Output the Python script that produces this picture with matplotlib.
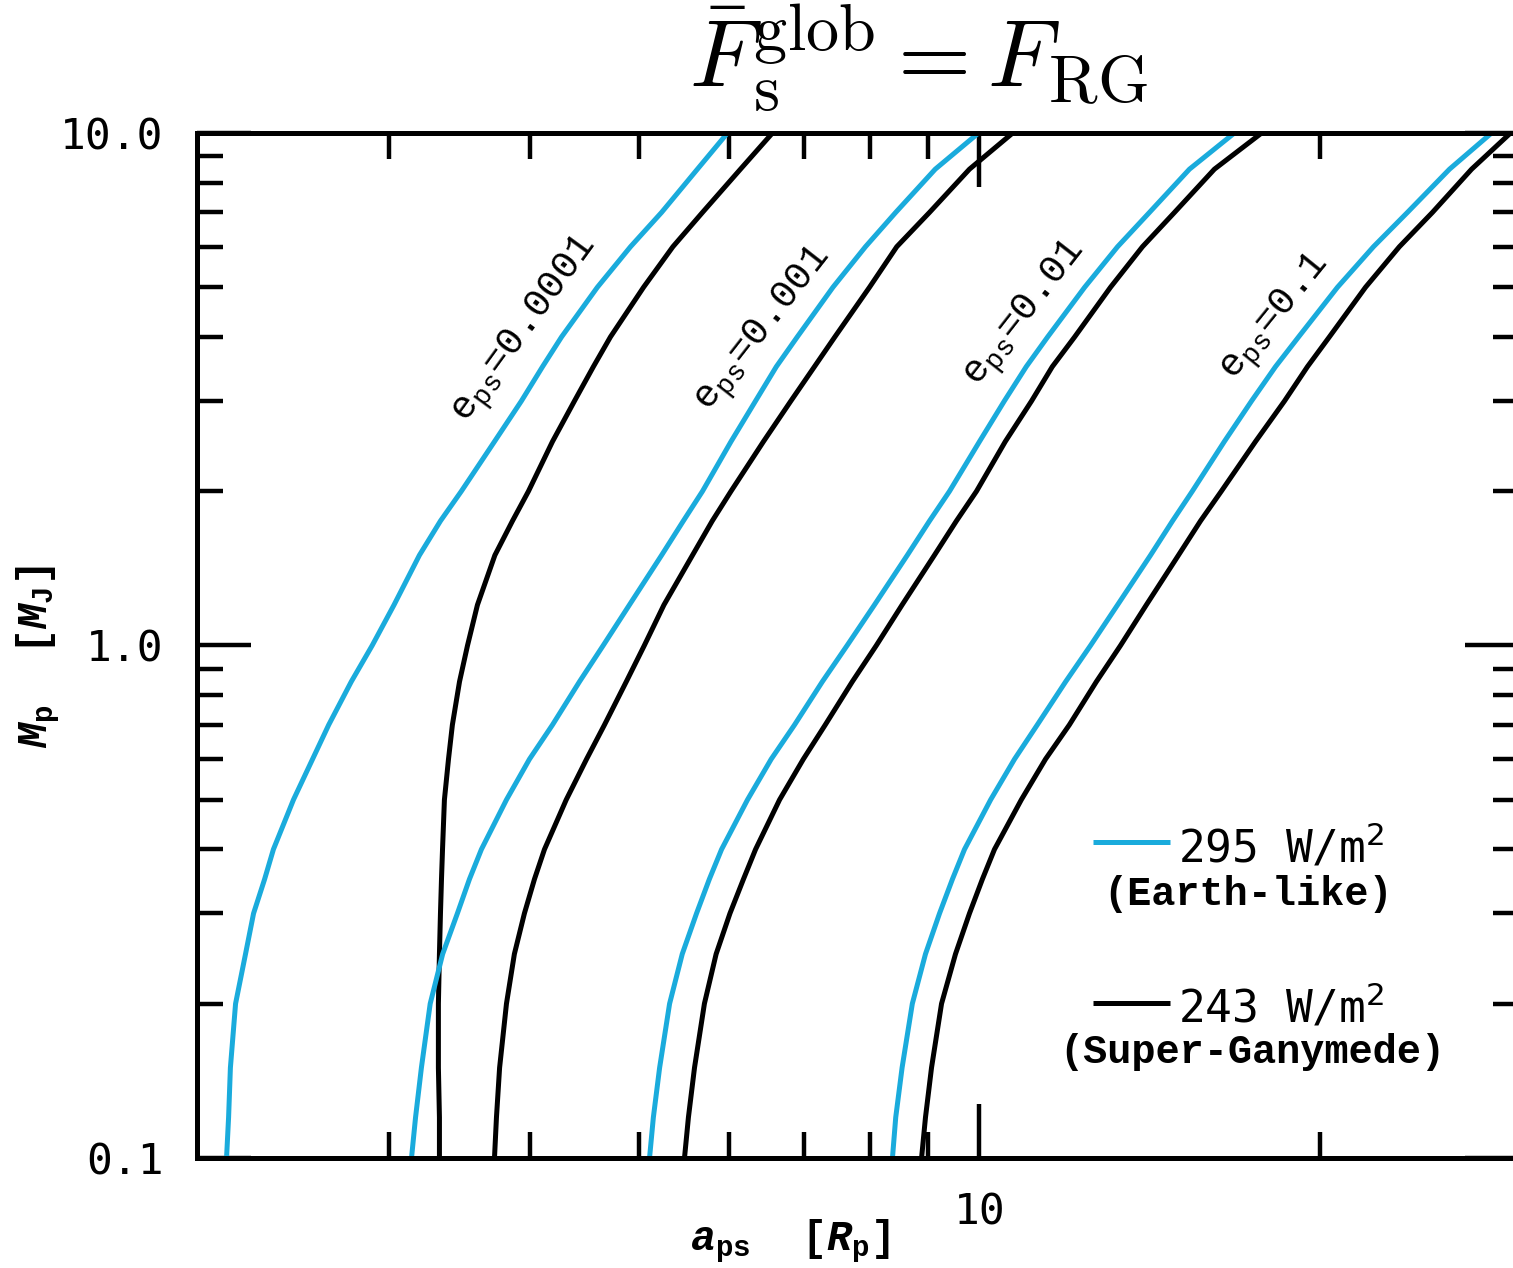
import matplotlib
matplotlib.use('Agg')
import matplotlib.pyplot as plt
from matplotlib.ticker import FixedLocator, FixedFormatter, NullFormatter

plt.rcParams['mathtext.fontset'] = 'custom'
plt.rcParams['mathtext.rm'] = 'Liberation Mono'
plt.rcParams['mathtext.it'] = 'Liberation Mono:italic'
plt.rcParams['mathtext.bf'] = 'Liberation Mono:bold'
plt.rcParams['mathtext.bfit'] = 'Liberation Mono:italic:bold'

# planet mass [M_J] and the matching separation a_ps [R_p] for each curve
mass = [0.1, 0.12, 0.15, 0.2, 0.25, 0.3, 0.35, 0.4, 0.5, 0.6, 0.7, 0.85, 1.0,
        1.2, 1.5, 1.75, 2, 2.5, 3, 3.5, 4, 5, 6, 7, 8.5, 10]

ecc = ['0.0001', '0.001', '0.01', '0.1']
# 295 W/m2 (Earth-like)
a_earth = [
    [2.156, 2.165, 2.173, 2.196, 2.241, 2.278, 2.330, 2.372, 2.471, 2.569, 2.655, 2.780, 2.901,
     3.033, 3.194, 3.334, 3.479, 3.722, 3.932, 4.105, 4.267, 4.590, 4.911, 5.232, 5.628, 5.984],
    [3.143, 3.169, 3.207, 3.265, 3.349, 3.451, 3.537, 3.624, 3.814, 3.997, 4.189, 4.426, 4.645,
     4.900, 5.232, 5.469, 5.687, 6.027, 6.336, 6.610, 6.898, 7.418, 7.927, 8.431, 9.138, 9.98],
    [5.105, 5.145, 5.211, 5.318, 5.457, 5.618, 5.767, 5.912, 6.233, 6.541, 6.860, 7.260, 7.636,
     8.073, 8.632, 9.032, 9.408, 10.0, 10.52, 11.00, 11.49, 12.39, 13.25, 14.14, 15.34, 16.81],
    [8.375, 8.431, 8.541, 8.721, 8.958, 9.218, 9.464, 9.699, 10.23, 10.74, 11.25, 11.92, 12.54,
     13.25, 14.17, 14.82, 15.43, 16.47, 17.41, 18.28, 19.16, 20.74, 22.32, 23.92, 26.06, 28.39],
]
# 243 W/m2 (Super-Ganymede)
a_gany = [
    [3.327, 3.327, 3.320, 3.320, 3.327, 3.334, 3.341, 3.348, 3.361, 3.389, 3.416, 3.466, 3.523,
     3.595, 3.725, 3.861, 3.989, 4.189, 4.381, 4.553, 4.714, 5.043, 5.354, 5.687, 6.144, 6.558],
    [3.722, 3.737, 3.761, 3.814, 3.876, 3.956, 4.038, 4.121, 4.308, 4.490, 4.657, 4.869, 5.051,
     5.257, 5.572, 5.801, 6.027, 6.439, 6.809, 7.144, 7.447, 7.992, 8.449, 9.032, 9.798, 10.70],
    [5.482, 5.526, 5.595, 5.709, 5.847, 6.014, 6.182, 6.336, 6.654, 6.984, 7.303, 7.717, 8.104,
     8.541, 9.122, 9.541, 9.94, 10.54, 11.12, 11.60, 12.14, 13.06, 13.94, 14.88, 16.14, 17.77],
    [8.887, 8.958, 9.069, 9.256, 9.523, 9.798, 10.06, 10.31, 10.89, 11.44, 12.01, 12.69, 13.33,
     14.05, 15.00, 15.69, 16.37, 17.55, 18.62, 19.51, 20.40, 21.96, 23.53, 25.17, 27.26, 29.51],
]
# where the e_ps labels sit (a, M) and their angle
lab_a = [3.97, 6.45, 11.0, 18.3]
lab_m = [4.13, 4.13, 4.44, 4.36]
lab_rot = [54, 52, 52, 51]

blue = '#1aabdc'

fig = plt.figure(figsize=(15.13, 12.68), dpi=100)
ax = fig.add_axes([0.1302, 0.0868, 0.8735, 0.8083])

for i in range(len(ecc)):
    ax.plot(a_earth[i], mass, color=blue, lw=3.6, solid_capstyle='butt', solid_joinstyle='round')
    ax.plot(a_gany[i], mass, color='black', lw=3.6, solid_capstyle='butt', solid_joinstyle='round')
    ax.text(lab_a[i], lab_m[i], r'$\mathrm{e}_{\mathrm{ps}}$=' + ecc[i],
            rotation=lab_rot[i], rotation_mode='anchor', ha='center', va='center',
            fontsize=28, family='Liberation Mono', math_fontfamily='custom')

ax.set_xscale('log')
ax.set_yscale('log')
ax.set_xlim(2.03, 30)
ax.set_ylim(0.1, 10)

ax.xaxis.set_major_locator(FixedLocator([10]))
ax.xaxis.set_major_formatter(FixedFormatter(['10']))
ax.xaxis.set_minor_locator(FixedLocator([3, 4, 5, 6, 7, 8, 9, 20]))
ax.xaxis.set_minor_formatter(NullFormatter())
ax.yaxis.set_major_locator(FixedLocator([0.1, 1, 10]))
ax.yaxis.set_major_formatter(FixedFormatter(['0.1', '1.0', '10.0']))
ax.yaxis.set_minor_locator(FixedLocator([0.2, 0.3, 0.4, 0.5, 0.6, 0.7, 0.8, 0.9,
                                         2, 3, 4, 5, 6, 7, 8, 9]))
ax.yaxis.set_minor_formatter(NullFormatter())

ax.tick_params(which='both', direction='in', top=True, right=True, width=3.2)
ax.tick_params(which='major', length=39, pad=24)
ax.tick_params(which='minor', length=19)
for lab in ax.get_xticklabels() + ax.get_yticklabels():
    lab.set_fontfamily('DejaVu Sans Mono')
    lab.set_fontsize(31)
for s in ax.spines.values():
    s.set_linewidth(3.6)

# axis labels
fig.text(0.522, 0.0142, r'$\mathbfit{a}_{\mathbf{ps}}$  [$\mathbfit{R}_{\mathbf{p}}$]',
         ha='center', va='baseline', fontsize=30, family='Liberation Mono',
         weight='bold', math_fontfamily='custom')
fig.text(0.025, 0.482, r'$\mathbfit{M}_{\mathbf{p}}$  [$\mathbfit{M}_{\mathbf{J}}$]',
         ha='center', va='center', rotation=90, fontsize=30, family='Liberation Mono',
         weight='bold', math_fontfamily='custom')

# title
fig.text(0.607, 0.9306, r'$\bar{F}_{\rm s}^{\rm glob} = F_{\rm RG}$',
         ha='center', va='baseline', fontsize=68, math_fontfamily='cm')

# legend
ax.plot([0.678, 0.736], [0.3083, 0.3083], transform=ax.transAxes, color=blue, lw=3.6,
        solid_capstyle='butt')
ax.plot([0.678, 0.736], [0.1512, 0.1512], transform=ax.transAxes, color='black', lw=3.6,
        solid_capstyle='butt')
fig.text(1178 / 1513, 1 - 863 / 1268, r'295 W/m$^{2}$', ha='left', va='baseline',
         fontsize=32, family='DejaVu Sans Mono', math_fontfamily='dejavusans')
fig.text(1248 / 1513, 1 - 905 / 1268, '(Earth-like)', ha='center', va='baseline',
         fontsize=29, family='Liberation Mono', weight='bold')
fig.text(1178 / 1513, 1 - 1023 / 1268, r'243 W/m$^{2}$', ha='left', va='baseline',
         fontsize=32, family='DejaVu Sans Mono', math_fontfamily='dejavusans')
fig.text(1252 / 1513, 1 - 1063 / 1268, '(Super-Ganymede)', ha='center', va='baseline',
         fontsize=29, family='Liberation Mono', weight='bold')

fig.savefig('out.png', dpi=100)
